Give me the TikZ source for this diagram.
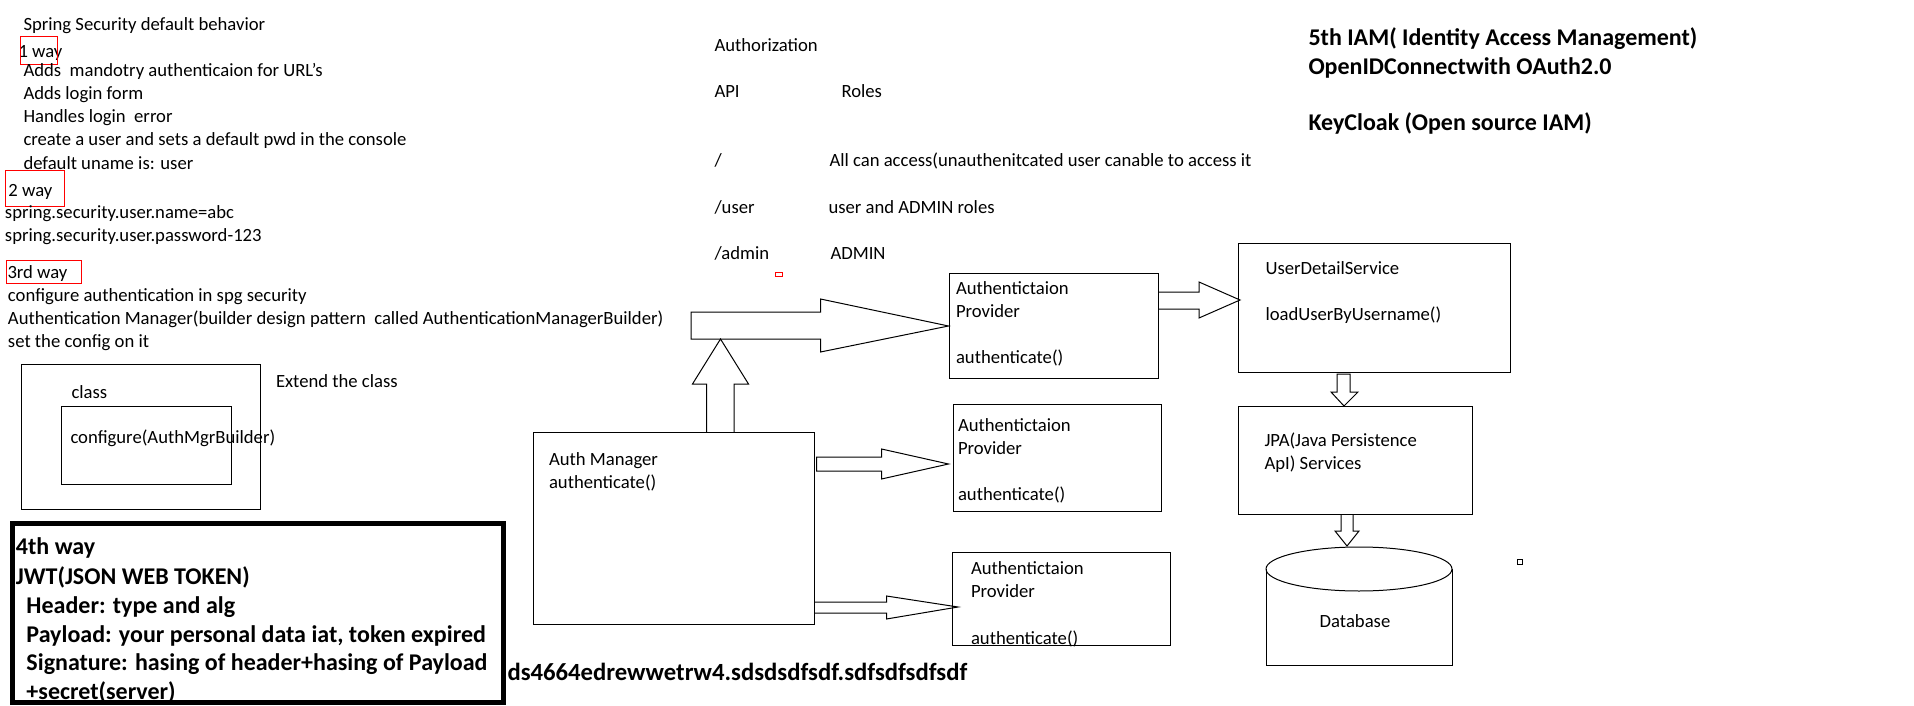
\documentclass[tikz,border=0pt]{standalone}
\usepackage{fontspec}
\setmainfont{Carlito}
\newcommand\regsize{\fontsize{18.67}{22.8}\selectfont}
\newcommand\bldsize{\fontsize{24}{29}\selectfont\bfseries}

\begin{document}
\begin{tikzpicture}[x=1pt, y=-1pt, line width=1pt,
txt/.style={anchor=base west, inner sep=0pt, font=\regsize},
bold/.style={anchor=base west, inner sep=0pt, font=\bldsize},
box/.style={draw, anchor=north west, inner sep=0pt},
redbox/.style={draw=red, line width=0.9pt},
fat/.style={draw, line join=miter}]
\useasboundingbox (0,0) rectangle (1914,706);

% default behaviour
\node[txt] (title) at (23,31) {Spring Security default behavior};
\node[txt] (way1) at (18,58) {1 way};
\draw[redbox] (20.5,36) rectangle (57.5,64);
\node[txt] (w1a) at (23,77) {Adds\ \ mandotry authenticaion for URL's};
\node[txt] (w1b) at (23,100) {Adds login form};
\node[txt] (w1c) at (23,123) {Handles login\ \ error};
\node[txt] (w1d) at (23,146) {create a user and sets a default pwd in the console};
\node[txt] (w1e) at (23,169) {default uname is: user};
\node[txt] (way2) at (8,196) {2 way};
\draw[redbox] (5.5,170) rectangle (64.5,206);
\node[txt] (w2a) at (4.5,218) {spring.security.user.name=abc};
\node[txt] (w2b) at (4.5,241) {spring.security.user.password-123};
\node[txt] (way3) at (7,278) {3rd way};
\draw[redbox] (6.5,260) rectangle (81,283);
\node[txt] (w3a) at (7.5,301) {configure authentication in spg security};
\node[txt] (w3b) at (7.5,324) {Authentication Manager(builder design pattern\ \ called AuthenticationManagerBuilder)};
\node[txt] (w3c) at (7.5,347) {set the config on it};

% class
\node[box, minimum width=239, minimum height=145] (cls) at (21,364) {};
\node[box, minimum width=170, minimum height=78] (cfg) at (61,406) {};
\node[txt] (clsname) at (71,398) {class};
\node[txt] (cfgname) at (70,443) {configure(AuthMgrBuilder)};
\node[txt] (extend) at (275.5,387) {Extend the class};

% jwt
\draw[line width=5pt] (12,523.5) rectangle (503.5,702.5);
\node[bold] (way4) at (15.5,554) {4th way};
\node[bold] (jwt) at (15.5,584) {JWT(JSON WEB TOKEN)};
\node[bold] (jhead) at (26,613) {Header: type and alg};
\node[bold] (jpay) at (26,642) {Payload: your personal data iat, token expired};
\node[bold] (jsig) at (26,670) {Signature: hasing of header+hasing of Payload};
\node[bold] (jsec) at (26,699) {+secret(server)};
\node[bold, font=\fontsize{24.7}{29}\selectfont\bfseries] (token) at (507,680) {ds4664edrewwetrw4.sdsdsdfsdf.sdfsdfsdfsdf};

% authorization
\node[txt] (authz) at (714,52) {Authorization};
\node[txt] (api) at (714,98) {API};
\node[txt] (roles) at (841,98) {Roles};
\node[txt] (root) at (714,167) {/};
\node[txt] (rootr) at (829,167) {All can access(unauthenitcated user canable to access it};
\node[txt] (user) at (714,213) {/user};
\node[txt] (userr) at (828,213) {user and ADMIN roles};
\node[txt] (admin) at (714,259) {/admin};
\node[txt] (adminr) at (830,259) {ADMIN};
\draw[red, line width=0.8pt] (775,272) rectangle (782,276);

% iam
\node[bold] (iam) at (1308,46) {5th IAM( Identity Access Management)};
\node[bold] (oidc) at (1308,75) {OpenIDConnectwith OAuth2.0};
\node[bold] (kc) at (1308,131) {KeyCloak (Open source IAM)};

% manager and providers
\node[box, minimum width=280.5, minimum height=192] (mgr) at (533,432) {};
\node[txt] (mgra) at (548.5,465) {Auth Manager};
\node[txt] (mgrb) at (548.5,488) {authenticate()};
\node[box, minimum width=209, minimum height=105] (prov1) at (948.5,273) {};
\node[txt] (p1a) at (955.5,294) {Authentictaion};
\node[txt] (p1b) at (955.5,317) {Provider};
\node[txt] (p1c) at (955.5,363) {authenticate()};
\node[box, minimum width=208, minimum height=107] (prov2) at (953,404) {};
\node[txt] (p2a) at (957.5,431) {Authentictaion};
\node[txt] (p2b) at (957.5,454) {Provider};
\node[txt] (p2c) at (957.5,500) {authenticate()};
\node[box, minimum width=217.5, minimum height=93] (prov3) at (952,552) {};
\node[txt] (p3a) at (970.5,574) {Authentictaion};
\node[txt] (p3b) at (970.5,597) {Provider};
\node[txt] (p3c) at (970.5,644) {authenticate()};

% user details side
\node[box, minimum width=272, minimum height=129] (uds) at (1238,243) {};
\node[txt] (udsa) at (1265,274) {UserDetailService};
\node[txt] (udsb) at (1265,320) {loadUserByUsername()};
\node[box, minimum width=234, minimum height=108] (jpa) at (1238,406) {};
\node[txt] (jpaa) at (1264,446) {JPA(Java Persistence};
\node[txt] (jpab) at (1264,469) {ApI) Services};
\draw (1359,569) ellipse [x radius=93, y radius=22];
\draw (1266,569) -- (1266,665) -- (1452,665) -- (1452,569);
\node[inner sep=0pt, anchor=base, font=\regsize] (db) at (1355,627) {Database};
\draw (1517,559) rectangle (1522,564);

% block arrows
\draw[fat] (691,312) -- (820.5,312) -- (820.5,299) -- (prov1.west) -- (820.5,352) -- (820.5,339) -- (691,339) -- cycle;
\draw[fat] (mgr.north -| 706.5,0) -- (706.5,384) -- (692.5,384) -- (720.5,339) -- (748.5,384) -- (734,384) -- (mgr.north -| 734,0);
\draw[fat] (816.5,457) -- (881.5,457) -- (881.5,449) -- (948.5,464) -- (881.5,479) -- (881.5,471) -- (816.5,471) -- cycle;
\draw[fat] (mgr.east |- 0,602) -- (886.5,602) -- (886.5,596) -- (958,607) -- (886.5,619) -- (886.5,613) -- (mgr.east |- 0,613);
\draw[fat] (prov1.east |- 0,292) -- (1199,292) -- (1199,282) -- (1240,300) -- (1199,318) -- (1199,309) -- (prov1.east |- 0,309);
\draw[fat] (1337,374) -- (1337,392) -- (1331,392) -- (jpa.north -| 1344,0) -- (1358,392) -- (1350,392) -- (1350,374) -- cycle;
\draw[fat] (jpa.south -| 1341,0) -- (1341,531) -- (1335,531) -- (1347,546) -- (1359,531) -- (1353,531) -- (jpa.south -| 1353,0);
\end{tikzpicture}
\end{document}
